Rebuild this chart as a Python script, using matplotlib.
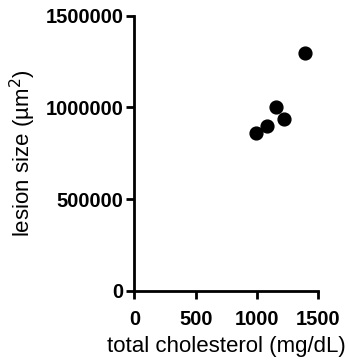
import matplotlib
matplotlib.use("Agg")
import matplotlib.pyplot as plt

# data
cholesterol = [990, 1079, 1158, 1220, 1392]
lesion_size = [858000, 900000, 1000000, 935000, 1298000]

x_ticks = [0, 500, 1000, 1500]
y_ticks = [0, 500000, 1000000, 1500000]

plt.rcParams["font.family"] = ["Liberation Sans", "DejaVu Sans"]

fig = plt.figure(figsize=(3.49, 3.64), dpi=100)
ax = fig.add_axes([0.385, 0.2014, 0.527, 0.7556])

ax.scatter(cholesterol, lesion_size, s=85, color="black", zorder=3, clip_on=False)

ax.set_xlim(0, 1500)
ax.set_ylim(0, 1500000)
ax.set_xticks(x_ticks)
ax.set_yticks(y_ticks)
ax.set_xticklabels([str(v) for v in x_ticks], fontsize=14.5, fontweight="bold")
ax.set_yticklabels([str(v) for v in y_ticks], fontsize=14.5, fontweight="bold")

for side in ["top", "right"]:
    ax.spines[side].set_visible(False)
for side in ["left", "bottom"]:
    ax.spines[side].set_linewidth(2)
ax.tick_params(axis="both", direction="out", length=6, width=2)
ax.tick_params(axis="x", pad=8)
ax.tick_params(axis="y", pad=2)

ax.set_xlabel("total cholesterol (mg/dL)", fontsize=16, labelpad=5)
ax.set_ylabel("lesion size (µm$^2$)", fontsize=16, labelpad=5)

fig.savefig("out.png", dpi=100)
